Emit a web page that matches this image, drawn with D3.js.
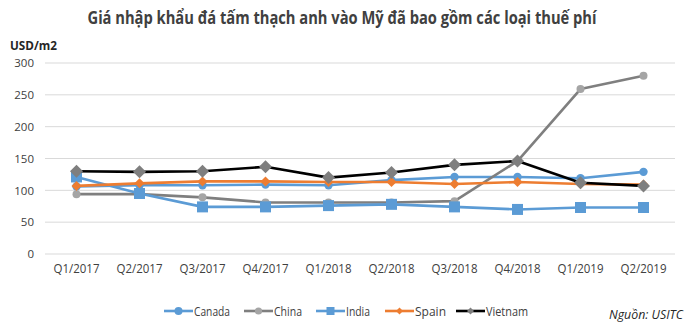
<!DOCTYPE html>
<html><head><meta charset="utf-8">
<script src="https://cdn.jsdelivr.net/npm/d3@7"></script>
<style>body{margin:0;background:#fff}svg{display:block}</style>
</head><body>
<svg id="c" width="700" height="327"></svg>
<script>
const categories = ["Q1/2017","Q2/2017","Q3/2017","Q4/2017","Q1/2018","Q2/2018","Q3/2018","Q4/2018","Q1/2019","Q2/2019"];
const canada  = [106,108,108,109,108,116,121,121,119,129];
const china   = [94,94,89,81,81,81,83,146,259,280];
const india   = [121,95,74,74,76,78,74,70,73,73];
const spain   = [107,111,114,114,113,113,110,113,110,109];
const vietnam = [130,129,130,137,120,128,140,146,112,107];
const yTicks = [0,50,100,150,200,250,300];
const seriesNames = ["Canada","China","India","Spain","Vietnam"];

const series = [
  {name:"Canada", values:canada, line:"#5b9bd5", marker:"#5b9bd5", shape:"circle", size:4.2, lsize:4},
  {name:"China", values:china, line:"#7f7f7f", marker:"#a5a5a5", shape:"circle", size:4, lsize:3.6},
  {name:"India", values:india, line:"#5b9bd5", marker:"#5b9bd5", shape:"square", size:5.5, lsize:4},
  {name:"Spain", values:spain, line:"#ed7d31", marker:"#ed7d31", shape:"diamond", size:5, lsize:3.5},
  {name:"Vietnam", values:vietnam, line:"#000000", marker:"#7f7f7f", shape:"diamond", size:6.5, lsize:3.5}
];

const svg = d3.select("#c");
const font = "'Open Sans', sans-serif";
const x = d3.scaleBand().domain(categories).range([45,675]);
const y = d3.scaleLinear().domain([0,300]).range([254,63]);

svg.append("g").selectAll("line").data(yTicks).join("line")
  .attr("x1",45).attr("x2",675).attr("y1",d=>y(d)).attr("y2",d=>y(d))
  .attr("stroke","#d9d9d9").attr("stroke-width",1);

const ya = svg.append("g").attr("transform","translate(45,0)")
  .call(d3.axisLeft(y).tickValues(yTicks).tickSize(0).tickPadding(11));
ya.select(".domain").remove();
ya.selectAll("text").attr("font-family",font).attr("font-size",11.5).attr("fill","#404040");

const xa = svg.append("g").attr("transform","translate(0,254)")
  .call(d3.axisBottom(x).tickSize(0).tickPadding(10));
xa.select(".domain").remove();
xa.selectAll("text").attr("font-family",font).attr("font-size",12).attr("fill","#404040")
  .attr("textLength",46).attr("lengthAdjust","spacingAndGlyphs");

function symbolPath(shape, s){
  if(shape==="circle") return d3.symbol(d3.symbolCircle, Math.PI*s*s)();
  if(shape==="square") return d3.symbol(d3.symbolSquare, (2*s)*(2*s))();
  return `M0,${-s}L${s},0L0,${s}L${-s},0Z`;
}

const cx = (i)=> x(categories[i]) + x.bandwidth()/2;
const line = d3.line().x((d,i)=>cx(i)).y(d=>y(d));

series.forEach(s=>{
  const g = svg.append("g");
  g.append("path").attr("d",line(s.values)).attr("fill","none")
    .attr("stroke",s.line).attr("stroke-width",2.6).attr("stroke-linejoin","round");
  g.selectAll("path.m").data(s.values).join("path").attr("class","m")
    .attr("transform",(d,i)=>`translate(${cx(i)},${y(d)})`)
    .attr("d",symbolPath(s.shape,s.size)).attr("fill",s.marker);
});

svg.append("text").attr("x",342).attr("y",24).attr("text-anchor","middle")
  .attr("font-family",font).attr("font-weight","bold").attr("font-size",17)
  .attr("fill","#404040").attr("textLength",509).attr("lengthAdjust","spacingAndGlyphs")
  .text("Giá nhập khẩu đá tấm thạch anh vào Mỹ đã bao gồm các loại thuế phí");

svg.append("text").attr("x",10).attr("y",50)
  .attr("font-family",font).attr("font-weight","bold").attr("font-size",12)
  .attr("fill","#262626").attr("textLength",47).attr("lengthAdjust","spacingAndGlyphs").text("USD/m2");

const legendX = [164,244,316,385,456];
const legendW = [36,28,24,31,42];
const lg = svg.append("g");
series.forEach((s,i)=>{
  const x0 = legendX[i], yy = 311;
  lg.append("line").attr("x1",x0).attr("x2",x0+29).attr("y1",yy).attr("y2",yy)
    .attr("stroke",s.line).attr("stroke-width",2.6);
  lg.append("path").attr("transform",`translate(${x0+14.5},${yy})`)
    .attr("d",symbolPath(s.shape,s.lsize)).attr("fill",s.marker);
  lg.append("text").attr("x",x0+30).attr("y",yy+4.5).attr("font-family",font)
    .attr("font-size",12).attr("fill","#404040")
    .attr("textLength",legendW[i]).attr("lengthAdjust","spacingAndGlyphs").text(seriesNames[i]);
});

svg.append("text").attr("x",683).attr("y",319).attr("text-anchor","end")
  .attr("font-family",font).attr("font-style","italic").attr("font-size",12.5)
  .attr("fill","#262626").attr("textLength",74).attr("lengthAdjust","spacingAndGlyphs").text("Nguồn: USITC");
</script>
</body></html>
